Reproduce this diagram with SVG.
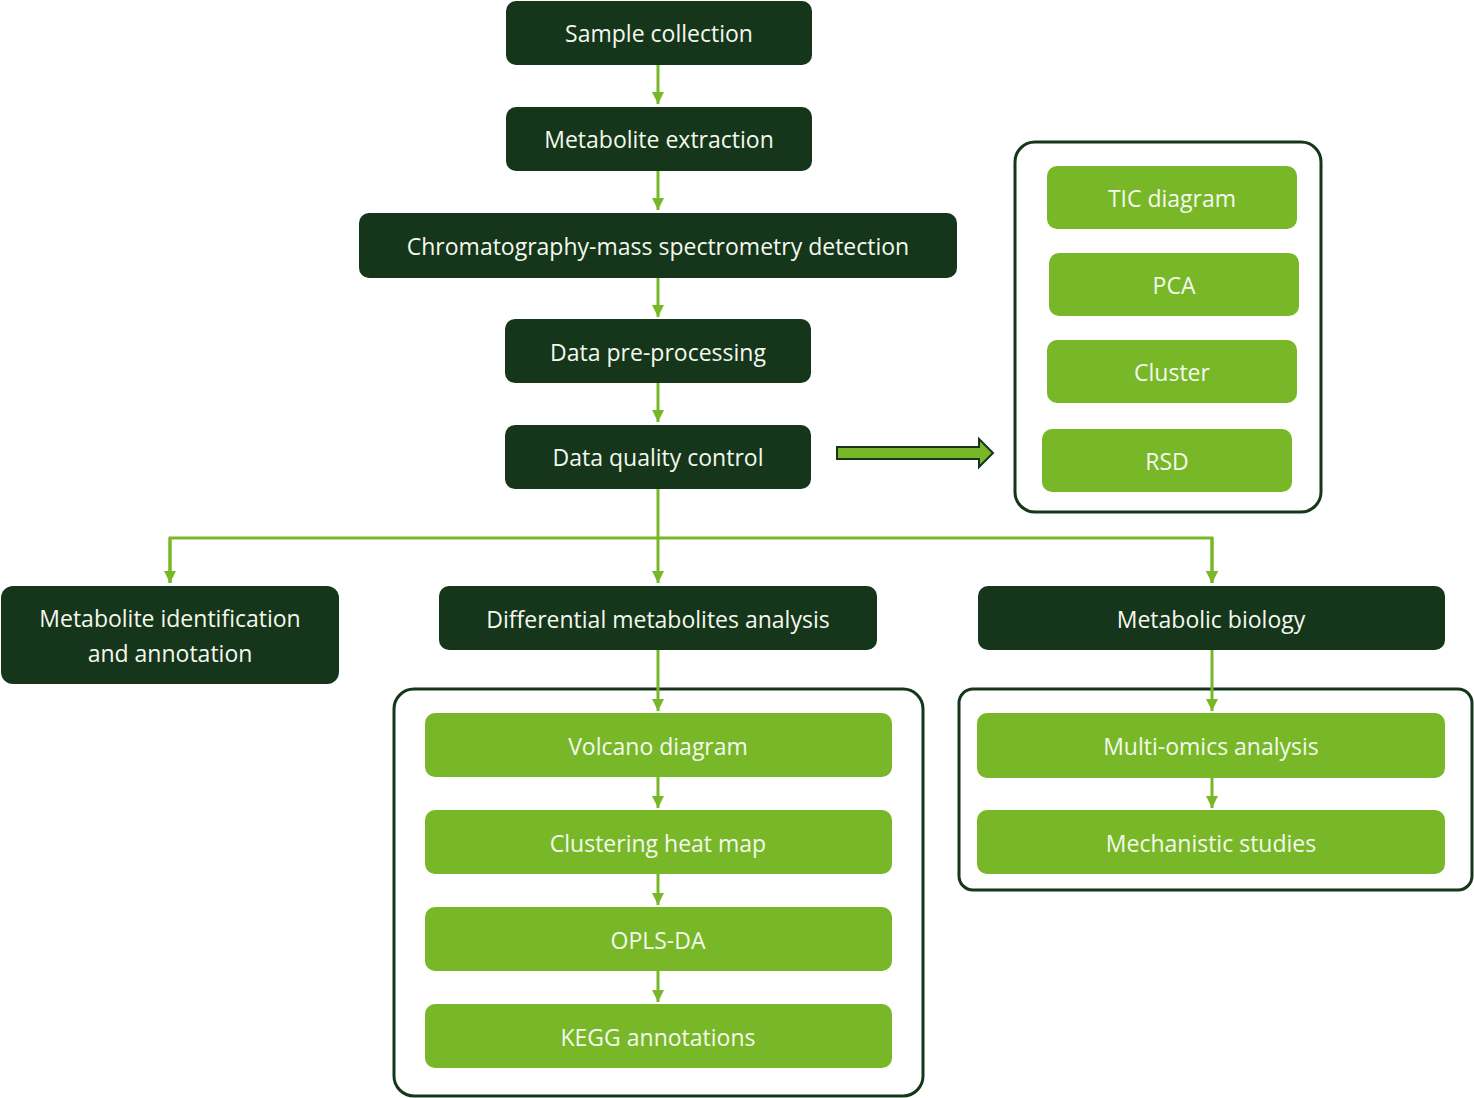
<svg xmlns="http://www.w3.org/2000/svg" width="1474" height="1098" viewBox="0 0 1474 1098">
<style>
.d{fill:#15361a}
.g{fill:#78b828}
.f{fill:none;stroke:#15361a;stroke-width:3}
text{font-family:"Open Sans","DejaVu Sans",sans-serif;font-size:23px;fill:#f4f8ee;text-anchor:middle;dominant-baseline:central}
.c{stroke:#78b828;stroke-width:3;fill:none}
</style>
<defs><marker id="a" viewBox="0 0 10 10" refX="10" refY="5" markerWidth="4" markerHeight="4" orient="auto" markerUnits="strokeWidth"><path d="M0,0L10,5L0,10z" fill="#78b828"/></marker></defs>
<rect class="f" x="1015" y="142" width="306" height="370" rx="20"/>
<rect class="f" x="394" y="689" width="529" height="407" rx="20"/>
<rect class="f" x="959" y="689" width="513" height="201" rx="14"/>
<g id="connectors">
<path class="c" d="M658,65V104" marker-end="url(#a)"/>
<path class="c" d="M658,171V210" marker-end="url(#a)"/>
<path class="c" d="M658,278V317" marker-end="url(#a)"/>
<path class="c" d="M658,383V422" marker-end="url(#a)"/>
<path class="c" d="M658,489V583" marker-end="url(#a)"/>
<path class="c" d="M170,583V538H1212V583" marker-end="url(#a)"/>
<path class="c" d="M1212,538V583" marker-end="url(#a)"/>
<path class="c" d="M170,538V583" marker-end="url(#a)"/>
<path class="c" d="M658,650V711" marker-end="url(#a)"/>
<path class="c" d="M658,777V808" marker-end="url(#a)"/>
<path class="c" d="M658,874V905" marker-end="url(#a)"/>
<path class="c" d="M658,971V1002" marker-end="url(#a)"/>
<path class="c" d="M1212,650V711" marker-end="url(#a)"/>
<path class="c" d="M1212,778V808" marker-end="url(#a)"/>
<path d="M837,447H979V439L993,453L979,467V459H837Z" fill="#78b828" stroke="#15361a" stroke-width="2"/>
</g>
<g id="n1"><rect class="d" x="506" y="1" width="306" height="64" rx="10"/><text x="659" y="33">Sample collection</text></g>
<g id="n2"><rect class="d" x="506" y="107" width="306" height="64" rx="10"/><text x="659" y="139">Metabolite extraction</text></g>
<g id="n3"><rect class="d" x="359" y="213" width="598" height="65" rx="10"/><text x="658" y="246">Chromatography-mass spectrometry detection</text></g>
<g id="n4"><rect class="d" x="505" y="319" width="306" height="64" rx="10"/><text x="658" y="352">Data pre-processing</text></g>
<g id="n5"><rect class="d" x="505" y="425" width="306" height="64" rx="10"/><text x="658" y="457">Data quality control</text></g>
<g id="q1"><rect class="g" x="1047" y="166" width="250" height="63" rx="10"/><text x="1172" y="198">TIC diagram</text></g>
<g id="q2"><rect class="g" x="1049" y="253" width="250" height="63" rx="10"/><text x="1174" y="285">PCA</text></g>
<g id="q3"><rect class="g" x="1047" y="340" width="250" height="63" rx="10"/><text x="1172" y="372">Cluster</text></g>
<g id="q4"><rect class="g" x="1042" y="429" width="250" height="63" rx="10"/><text x="1167" y="461">RSD</text></g>
<g id="m1"><rect class="d" x="1" y="586" width="338" height="98" rx="12"/><text x="170" y="618">Metabolite identification</text><text x="170" y="653">and annotation</text></g>
<g id="m2"><rect class="d" x="439" y="586" width="438" height="64" rx="10"/><text x="658" y="619">Differential metabolites analysis</text></g>
<g id="m3"><rect class="d" x="978" y="586" width="467" height="64" rx="10"/><text x="1211" y="619">Metabolic biology</text></g>
<g id="d1"><rect class="g" x="425" y="713" width="467" height="64" rx="10"/><text x="658" y="746">Volcano diagram</text></g>
<g id="d2"><rect class="g" x="425" y="810" width="467" height="64" rx="10"/><text x="658" y="843">Clustering heat map</text></g>
<g id="d3"><rect class="g" x="425" y="907" width="467" height="64" rx="10"/><text x="658" y="940">OPLS-DA</text></g>
<g id="d4"><rect class="g" x="425" y="1004" width="467" height="64" rx="10"/><text x="658" y="1037">KEGG annotations</text></g>
<g id="b1"><rect class="g" x="977" y="713" width="468" height="65" rx="10"/><text x="1211" y="746">Multi-omics analysis</text></g>
<g id="b2"><rect class="g" x="977" y="810" width="468" height="64" rx="10"/><text x="1211" y="843">Mechanistic studies</text></g>
</svg>
